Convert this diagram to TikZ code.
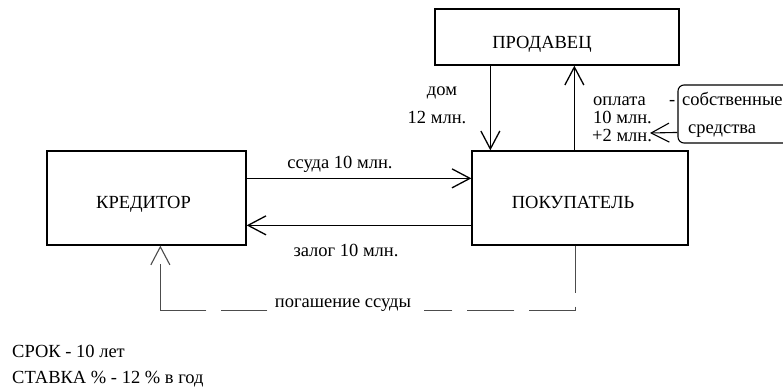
\documentclass[tikz,border=0pt]{standalone}
\usepackage{fontspec}
\setmainfont{Liberation Serif}
\usetikzlibrary{arrows.meta}
\begin{document}
\begin{tikzpicture}[x=1pt,y=-1pt,
  box/.style={draw, line width=1.3pt, inner sep=0pt},
  lbl/.style={inner sep=0pt, font=\fontsize{18.5}{20}\selectfont},
  arr/.style={line width=1.3pt, -{Straight Barb[length=18pt,width=19pt]}},
  loan/.style={line width=1.1pt, draw=black!70,
    dash pattern=on 47pt off 14pt on 50pt off 15pt on 47pt off 15pt on 28pt off 157pt on 46pt off 15pt on 93pt off 18pt,
    -{Straight Barb[length=18pt,width=19pt,line width=1.1pt]}},
]
\useasboundingbox (0,0) rectangle (783,391);
% boxes
\node[box, minimum width=244pt, minimum height=56pt] (sell) at (557,37) {};
\node[box, minimum width=199pt, minimum height=94pt] (cred) at (146.5,198) {};
\node[box, minimum width=216pt, minimum height=94pt] (buyer) at (580,198) {};
\node[box, rounded corners=6pt, line width=1.1pt, minimum width=152pt, minimum height=58pt] (own) at (754,114) {};
% box labels
\node[lbl, anchor=base] (sellT) at (542,48) {ПРОДАВЕЦ};
\node[lbl, anchor=base] (credT) at (143.5,208) {КРЕДИТОР};
\node[lbl, anchor=base] (buyerT) at (573,208) {ПОКУПАТЕЛЬ};
% connectors
\draw[arr] ([xshift=56pt]sell.south west) -- ([xshift=19pt]buyer.north west);
\draw[arr] ([xshift=103pt]buyer.north west) -- ([xshift=140pt]sell.south west);
\draw[arr] ([yshift=-28pt]cred.north east) -- ([yshift=-28pt]buyer.north west);
\draw[arr] ([yshift=-75pt]buyer.north west) -- ([yshift=-75pt]cred.north east);
\draw[loan] ([xshift=104pt]buyer.south west) -- ++(0,65) -| ([xshift=114pt]cred.south west);
\coordinate (tipc) at (650,133);
\draw[line width=1.1pt, -{Straight Barb[length=18pt,width=19pt]}] ([yshift=-48pt]own.north west) -- (tipc);
% labels
\node[lbl, anchor=base] (dom) at (442,95) {дом};
\node[lbl, anchor=base] (dom12) at (437,123) {12 млн.};
\node[lbl, anchor=base west] (opl) at (593,105) {оплата};
\node[lbl, anchor=base west] (dash) at (669,105) {-};
\node[lbl, anchor=base west] (opl10) at (593,123) {10 млн.};
\node[lbl, anchor=base west] (opl2) at (592,141) {+2 млн.};
\node[lbl, anchor=base west] (sobst) at (682,105) {собственные};
\node[lbl, anchor=base west] (sredst) at (688,133) {средства};
\node[lbl, anchor=base] (ssuda) at (340,168) {ссуда 10 млн.};
\node[lbl, anchor=base] (zalog) at (346,256) {залог 10 млн.};
\node[lbl, anchor=base, fill=white, inner xsep=4pt] (pogash) at (343,307) {погашение ссуды};
\node[lbl, anchor=base west] (srok) at (12,357) {СРОК - 10 лет};
\node[lbl, anchor=base west] (stavka) at (12,383) {СТАВКА \% - 12 \% в год};
\end{tikzpicture}
\end{document}
